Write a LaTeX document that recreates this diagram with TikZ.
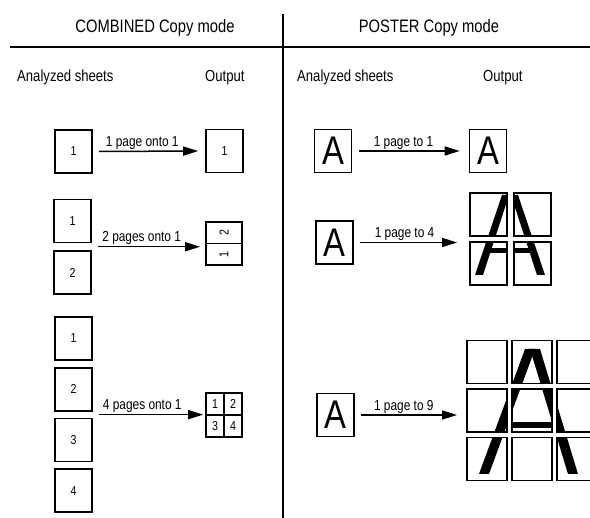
\documentclass[tikz,border=0pt]{standalone}
\usepackage{fontspec}
\setmainfont{Liberation Sans}[FakeStretch=0.82]
\usetikzlibrary{arrows.meta,calc}
\newcommand{\posterAfour}{%
  \fill (475,275) -- (483,275) -- (509,195) -- (502,195) -- cycle;
  \fill (511,195) -- (518,195) -- (545,275) -- (537,275) -- cycle;
  \fill (488,248) rectangle (532,253);}
\newcommand{\posterAnine}{%
  \fill (479,474) -- (489,474) -- (535,349) -- (525,349) -- cycle;
  \fill (530,349) -- (540,349) -- (578,474) -- (568,474) -- cycle;
  \fill (500,422) rectangle (562,428);}
\begin{document}
\begin{tikzpicture}[x=1pt,y=-1pt,
  sheet/.style={draw, line width=1.6pt, minimum width=37pt, minimum height=43pt, inner sep=0pt, font=\fontsize{13}{13}\selectfont},
  half/.style={draw, line width=1.6pt, minimum width=36pt, minimum height=21.5pt, inner sep=0pt, font=\fontsize{13}{13}\selectfont},
  quarter/.style={draw, line width=1.6pt, minimum width=18pt, minimum height=22pt, inner sep=0pt, font=\fontsize{13}{13}\selectfont},
  tile/.style={draw, line width=1.7pt, inner sep=0pt},
  bigA/.style={font=\fontsize{40}{40}\selectfont},
  head/.style={anchor=base, inner sep=0pt, font=\fontsize{18}{18}\selectfont},
  sub/.style={anchor=base west, inner sep=0pt, font=\fontsize{16}{16}\selectfont},
  arr/.style={line width=1.5pt, -{Triangle[length=15pt,width=9pt]}},
  lbl/.style={above, pos=0.44, inner sep=1pt, font=\fontsize{14.5}{14.5}\selectfont}]
\useasboundingbox (0,0) rectangle (590,518);
\node[head] (hcomb) at (155,33) {COMBINED Copy mode};
\node[head] (hpost) at (429,33) {POSTER Copy mode};
\draw[line width=1.8pt] (10,47) -- (590,47);
\draw[line width=1.8pt] (283,14) -- (283,518);
\node[sub] (cin) at (17,82) {Analyzed sheets};
\node[sub] (cout) at (205,82) {Output};
\node[sub] (pin) at (297,82) {Analyzed sheets};
\node[sub] (pout) at (483,82) {Output};

\node[sheet] (c1in) at (73.5,151.5) {1};
\node[sheet] (c1out) at (224.5,151) {1};
\draw[arr, shorten <=6pt, shorten >=7pt] (c1in.east) -- (c1out.west) node[lbl] {1 page onto 1};

\node[sheet] (c2a) at (72.5,221) {1};
\node[sheet] (c2b) at (72.5,272.5) {2};
\node[half] (c2top) at (224,232.75) {\rotatebox{90}{2}};
\node[half] (c2bot) at (224,254.25) {\rotatebox{90}{1}};
\coordinate (c2from) at ($(c2a.south east)!0.5!(c2b.north east)$);
\draw[arr, shorten <=6pt, shorten >=5pt] (c2from) -- (c2from -| c2top.west) node[lbl] {2 pages onto 1};

\foreach \n in {1,...,4}
  \node[sheet] (c3\n) at (73.5,287.75+50.75*\n) {\n};
\node[quarter] (q1) at (215,404) {1};
\node[quarter] (q2) at (233,404) {2};
\node[quarter] (q3) at (215,426) {3};
\node[quarter] (q4) at (233,426) {4};
\coordinate (c3from) at ($(c32.south east)!0.5!(c33.north east)$);
\draw[arr, shorten <=6pt, shorten >=2pt] (c3from) -- (c3from -| q1.west) node[lbl] {4 pages onto 1};

\node[sheet, bigA] (p1in) at (333,151) {A};
\node[sheet, bigA] (p1out) at (488,151) {A};
\draw[arr, shorten <=7pt, shorten >=9pt] (p1in.east) -- (p1out.west) node[lbl] {1 page to 1};

\node[sheet, bigA] (p2in) at (334.5,242.5) {A};
\foreach \i in {1,2} \foreach \j in {1,2} {
  \pgfmathsetmacro\cx{444.5+44*\i}
  \pgfmathsetmacro\cy{165.5+49*\j}
  \begin{scope}
    \clip (\cx-18.5,\cy-21.5) rectangle (\cx+18.5,\cy+21.5);
    \posterAfour
  \end{scope}
  \node[tile, minimum width=37pt, minimum height=43pt] (f\i\j) at (\cx,\cy) {};
}
\draw[arr, shorten <=6pt, shorten >=12pt] (p2in.east) -- (p2in.east -| f11.west) node[lbl] {1 page to 4};

\node[sheet, bigA] (p3in) at (335.5,415) {A};
\foreach \i in {1,2,3} \foreach \j in {1,2,3} {
  \pgfmathsetmacro\cx{442+45*\i}
  \pgfmathsetmacro\cy{313.5+48.5*\j}
  \begin{scope}
    \clip (\cx-20,\cy-21.5) rectangle (\cx+20,\cy+21.5);
    \posterAnine
  \end{scope}
  \node[tile, minimum width=40pt, minimum height=43pt] (n\i\j) at (\cx,\cy) {};
}
\draw[arr, shorten <=6pt, shorten >=9pt] (p3in.east) -- (p3in.east -| n11.west) node[lbl] {1 page to 9};
\end{tikzpicture}
\end{document}
